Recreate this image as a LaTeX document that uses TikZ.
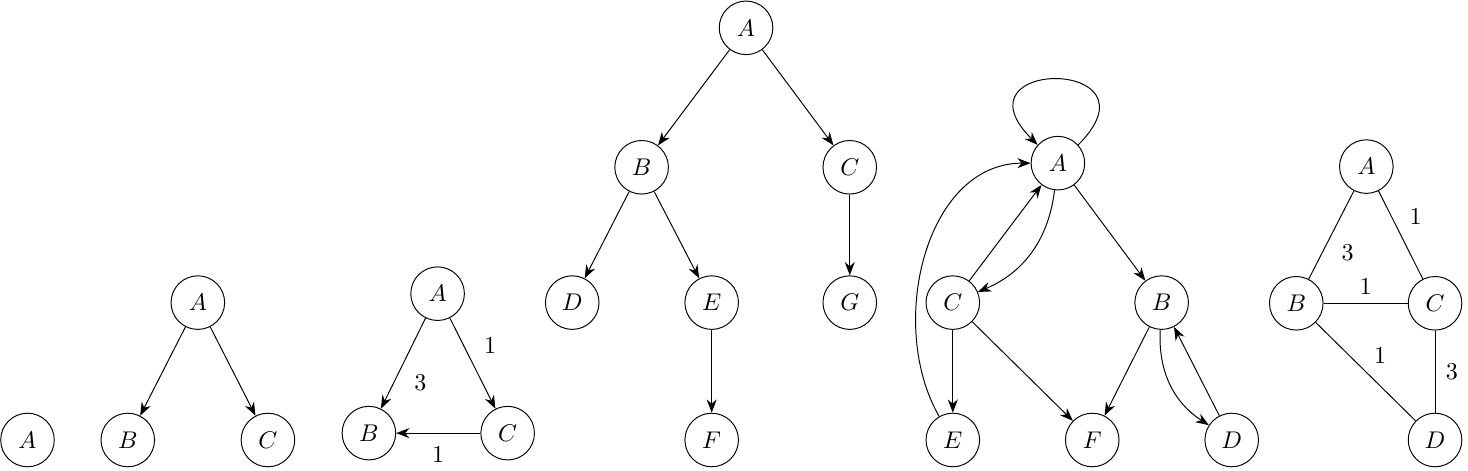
\documentclass[tikz,border=0pt]{standalone}
\usetikzlibrary{arrows.meta,positioning}

\begin{document}
\begin{tikzpicture}[>={Stealth[length=5.5pt]},
    vertex/.style={draw, circle, minimum size=0.78cm, inner sep=0pt}]
      \useasboundingbox (0,-0.437) rectangle (21.37,6.405);

      % Graph 1 (single vertex)
      \node[vertex] (a1) at (0.40,0) {$A$};

      % Graph 2 (tree)
      \node[vertex] (a2) at (2.88,2) {$A$};
      \node[vertex] (b2) at (1.86,0) {$B$};
      \node[vertex] (c2) at (3.90,0) {$C$};
      \draw[->] (a2) -- (b2);
      \draw[->] (a2) -- (c2);

      % Graph 3 (weighted, directed)
      \node[vertex] (a3) at (6.37,2.13) {$A$};
      \node[vertex] (b3) at (5.37,0.10) {$B$};
      \node[vertex] (c3) at (7.39,0.10) {$C$};
      \draw[->] (a3) -- node[pos=0.71, right=5pt]{$3$} (b3);
      \draw[->] (a3) -- node[pos=0.3, right=5pt]{$1$} (c3);
      \draw[->] (c3) -- node[midway, below=2pt]{$1$} (b3);

      % Graph 4 (larger tree)
      \node[vertex] (a4) at (10.86,6) {$A$};
      \node[vertex] (b4) at (9.34,3.97) {$B$};
      \node[vertex] (c4) at (12.37,3.97) {$C$};
      \node[vertex] (d4) at (8.33,2) {$D$};
      \node[vertex] (e4) at (10.36,2) {$E$};
      \node[vertex] (g4) at (12.37,2) {$G$};
      \node[vertex] (f4) at (10.36,0) {$F$};
      \draw[->] (a4) -- (b4);
      \draw[->] (a4) -- (c4);
      \draw[->] (b4) -- (d4);
      \draw[->] (b4) -- (e4);
      \draw[->] (c4) -- (g4);
      \draw[->] (e4) -- (f4);

      % Graph 5 (directed, with cycles)
      \node[vertex] (a5) at (15.40,4.03) {$A$};
      \node[vertex] (c5) at (13.87,2) {$C$};
      \node[vertex] (b5) at (16.91,2) {$B$};
      \node[vertex] (e5) at (13.87,0) {$E$};
      \node[vertex] (f5) at (15.90,0) {$F$};
      \node[vertex] (d5) at (17.93,0) {$D$};
      \draw[->] (a5.42) .. controls +(45:1.8) and +(135:1.8) .. (a5.138);
      \draw[->] (e5) to[out=120, in=180] (a5);
      \draw[->] (c5) -- (a5);
      \draw[->] (a5) to[bend left=30] (c5);
      \draw[->] (a5) -- (b5);
      \draw[->] (c5) -- (e5);
      \draw[->] (c5) -- (f5);
      \draw[->] (b5) -- (f5);
      \draw[->] (b5) to[bend right=30] (d5);
      \draw[->] (d5) -- (b5);

      % Graph 6 (weighted, undirected)
      \node[vertex] (a6) at (19.89,3.98) {$A$};
      \node[vertex] (b6) at (18.87,1.99) {$B$};
      \node[vertex] (c6) at (20.89,1.99) {$C$};
      \node[vertex] (d6) at (20.89,0) {$D$};
      \draw (a6) -- node[pos=0.7, right=4.5pt]{$3$} (b6);
      \draw (a6) -- node[pos=0.29, right=4pt]{$1$} (c6);
      \draw (b6) -- node[midway, above]{$1$} (c6);
      \draw (b6) -- node[midway, above right]{$1$} (d6);
      \draw (c6) -- node[midway, right=1pt]{$3$} (d6);
\end{tikzpicture}
\end{document}
